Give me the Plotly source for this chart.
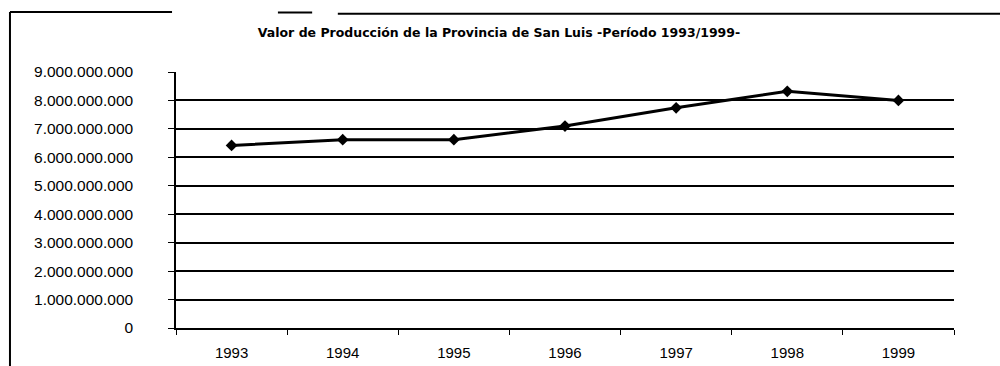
import plotly.graph_objects as go

# Production value of San Luis province, 1993-1999 (pesos)
years = ["1993", "1994", "1995", "1996", "1997", "1998", "1999"]
valor_produccion = [6.42e9, 6.62e9, 6.62e9, 7.10e9, 7.74e9, 8.32e9, 8.00e9]
y_ticks = [0, 1e9, 2e9, 3e9, 4e9, 5e9, 6e9, 7e9, 8e9, 9e9]

titulo = "Valor de Producción de la Provincia de San Luis -Período 1993/1999-"

fig = go.Figure()
fig.add_trace(go.Scatter(
    x=years,
    y=valor_produccion,
    mode="lines+markers",
    line=dict(color="black", width=3),
    marker=dict(symbol="diamond", size=9, color="black"),
    showlegend=False,
))

font_family = "Arial, Liberation Sans, sans-serif"

fig.update_layout(
    width=1000,
    height=366,
    margin=dict(l=176, r=46, t=72, b=38),
    paper_bgcolor="white",
    plot_bgcolor="white",
    separators=",.",
    font=dict(family=font_family, color="black", size=15),
    title=dict(
        text="<b>" + titulo + "</b>",
        x=0.499, xanchor="center",
        y=1 - 33 / 366, yanchor="middle",
        font=dict(size=12.5, family="DejaVu Sans, sans-serif", color="black"),
    ),
    xaxis=dict(
        type="category",
        range=[-0.5, 6.5],
        automargin=False,
        showline=True, linecolor="black", linewidth=1.5,
        ticks="outside", tickson="boundaries", ticklen=5, tickcolor="black",
        showgrid=False,
        tickfont=dict(size=15),
        ticklabelstandoff=10,
    ),
    yaxis=dict(
        range=[0, 9e9],
        automargin=False,
        tickvals=y_ticks,
        tickformat=",.0f",
        showline=True, linecolor="black", linewidth=1.5,
        ticks="outside", ticklen=6, tickcolor="black",
        showgrid=True, gridcolor="black", gridwidth=1.5,
        zeroline=True, zerolinecolor="black", zerolinewidth=1.5,
        tickfont=dict(size=15.5),
        ticklabelstandoff=32,
    ),
)

# Chart frame (top and left edges)
frame = dict(type="line", xref="paper", yref="paper", line=dict(color="black", width=2))
fig.add_shape(**frame, x0=-0.2134, x1=-0.0051, y0=1.234, y1=1.234)
fig.add_shape(**frame, x0=0.131, x1=0.175, y0=1.232, y1=1.232)
fig.add_shape(**frame, x0=0.208, x1=1.06, y0=1.228, y1=1.228)
fig.add_shape(**frame, x0=-0.2134, x1=-0.2134, y0=1.234, y1=-0.16)

fig.write_html("out.html")
